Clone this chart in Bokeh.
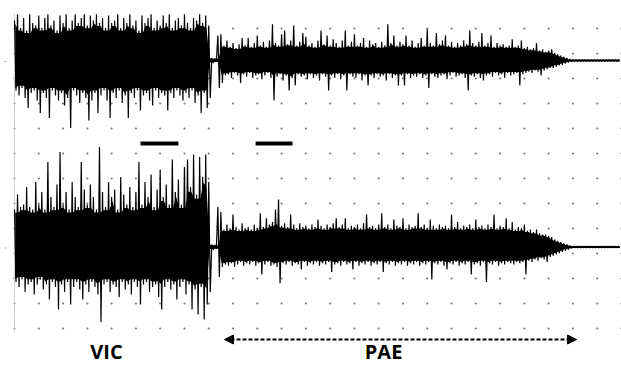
import numpy as np
from bokeh.plotting import figure
from bokeh.models import Range1d, Arrow, NormalHead
from bokeh.embed import file_html
from bokeh.resources import INLINE
from bokeh.core.properties import value

# ---------------- data ----------------
# sampling step of the envelope pairs, in grid divisions of time
dt = 0.125

# upper trace: positive / negative peaks per sample pair (grid divisions)
top_hi = [
    1.6, 1.85, 1.3, 1.7, 1.2, 1.85, 1.5, 1.4, 1.8, 1.3,
    1.7, 1.85, 1.4, 1.6, 1.2, 1.8, 1.5, 1.85, 1.3, 1.6,
    1.85, 1.5, 1.7, 1.85, 1.4, 1.8, 1.6, 1.85, 1.5, 1.7,
    1.3, 1.8, 1.5, 1.6, 1.85, 1.3, 1.7, 1.5, 1.85, 1.4,
    1.6, 1.2, 1.8, 1.5, 1.7, 1.85, 1.3, 1.6, 1.4, 1.8,
    1.5, 1.85, 1.3, 1.6, 1.7, 1.4, 1.85, 1.5, 1.3, 1.7,
    1.6, 1.85, 1.5, 1.8, 1.4,
    0.1, 0.08,
    1.0, 1.05, 0.6, 0.8, 0.55, 0.7, 0.5, 0.65, 0.9, 0.6,
    0.9, 0.55, 0.7, 1.0, 0.6, 0.75, 0.55, 0.8, 1.45, 0.7,
    0.6, 1.05, 1.2, 0.65, 0.8, 1.4, 0.6, 0.75, 1.1, 0.95,
    0.6, 0.7, 0.55, 0.8, 1.2, 0.65, 1.0, 0.6, 0.85, 0.7,
    0.55, 0.8, 1.2, 0.6, 0.75, 1.05, 0.6, 0.7, 0.9, 0.55,
    0.8, 0.65, 0.7, 0.55, 0.75, 0.6, 1.45, 0.7, 1.0, 0.6,
    0.75, 0.65, 1.0, 0.6, 0.8, 0.55, 0.7, 0.9, 0.6, 1.25,
    0.7, 0.6, 1.1, 0.65, 0.8, 1.0, 0.6, 0.75, 0.55, 0.7,
    0.6, 0.8, 0.65, 1.2, 0.7, 0.6, 0.75, 1.1, 0.6, 0.7,
    1.0, 0.55, 0.7, 0.6, 0.65, 0.55, 0.6, 0.85, 0.55, 0.6,
    0.8, 0.5, 0.55, 0.45, 0.5, 0.7, 0.4, 0.45, 0.35, 0.4,
    0.45, 0.3, 0.25, 0.2, 0.15, 0.1, 0.06,
    0.04, 0.04, 0.04, 0.04, 0.04, 0.04, 0.04, 0.04,
    0.04, 0.04, 0.04, 0.04, 0.04, 0.04, 0.04, 0.04,
]
top_lo = [
    -1.2, -1.4, -1.1, -1.5, -1.9, -1.3, -1.2, -1.6, -2.1, -1.3,
    -1.5, -2.3, -1.2, -1.4, -1.6, -1.3, -1.8, -1.5, -2.7, -1.2,
    -1.4, -1.7, -1.3, -1.5, -2.4, -1.6, -1.3, -2.1, -1.4, -1.2,
    -1.6, -2.3, -1.3, -1.5, -1.2, -1.7, -1.4, -2.3, -1.3, -1.5,
    -1.2, -2.0, -1.4, -1.3, -1.6, -1.8, -1.2, -1.5, -1.3, -1.4,
    -2.0, -1.3, -1.5, -1.2, -1.4, -1.6, -1.3, -1.5, -1.2, -1.7,
    -1.4, -2.1, -1.3, -1.9, -1.5,
    -0.1, -0.06,
    -1.1, -0.9, -0.6, -0.55, -0.7, -0.5, -0.6, -0.9, -0.55, -0.65,
    -0.5, -0.7, -0.6, -0.55, -0.75, -0.6, -0.5, -0.7, -1.6, -0.65,
    -0.55, -0.8, -0.6, -1.2, -0.7, -1.0, -0.55, -0.65, -0.6, -0.75,
    -0.55, -0.7, -0.6, -0.8, -0.55, -0.65, -1.2, -0.6, -0.7, -0.55,
    -0.75, -0.6, -1.2, -0.55, -0.65, -0.7, -0.55, -0.8, -0.6, -1.0,
    -0.6, -0.7, -0.55, -0.65, -0.6, -0.8, -0.55, -0.7, -0.6, -1.0,
    -0.6, -1.0, -0.55, -0.7, -0.6, -0.65, -0.55, -0.7, -0.6, -1.1,
    -0.55, -0.65, -0.7, -0.6, -0.55, -0.75, -0.6, -0.5, -0.65, -0.6,
    -0.55, -0.7, -1.2, -0.6, -0.65, -0.55, -0.7, -0.8, -0.6, -0.55,
    -0.65, -0.5, -0.6, -0.55, -0.7, -0.5, -0.6, -0.55, -0.5, -1.0,
    -0.55, -0.5, -0.45, -0.5, -0.4, -0.45, -0.6, -0.4, -0.35, -0.3,
    -0.3, -0.25, -0.2, -0.18, -0.12, -0.08, -0.05,
    -0.04, -0.04, -0.04, -0.04, -0.04, -0.04, -0.04, -0.04,
    -0.04, -0.04, -0.04, -0.04, -0.04, -0.04, -0.04, -0.04,
]

# lower trace
bot_hi = [
    1.5, 2.1, 1.6, 1.7, 2.4, 1.6, 1.5, 2.6, 1.7, 2.2,
    1.5, 3.4, 2.0, 1.6, 2.5, 3.8, 1.7, 2.2, 1.5, 2.6,
    2.0, 1.6, 3.4, 2.3, 1.7, 2.5, 2.0, 1.5, 4.0, 2.2,
    1.6, 2.6, 2.0, 2.3, 1.5, 2.8, 2.1, 1.7, 2.4, 1.6,
    2.2, 3.4, 1.7, 2.6, 2.0, 2.9, 1.6, 2.3, 3.1, 2.0,
    2.5, 1.7, 3.5, 2.2, 2.7, 1.7, 3.2, 3.5, 2.4, 3.7,
    2.1, 3.6, 2.8, 3.7, 2.6,
    0.1, 0.08,
    1.6, 1.4, 0.7, 0.9, 0.75, 1.3, 0.8, 0.7, 0.95, 0.75,
    0.8, 0.7, 0.9, 0.75, 1.35, 0.8, 1.15, 0.9, 1.0, 1.5,
    1.9, 0.85, 0.95, 0.8, 1.3, 0.9, 0.75, 0.95, 0.8, 0.85,
    0.75, 0.9, 0.8, 1.1, 0.85, 0.75, 0.9, 0.8, 0.95, 1.15,
    0.8, 0.9, 1.15, 0.75, 0.85, 0.8, 0.9, 0.75, 0.95, 1.3,
    0.8, 0.85, 0.75, 0.9, 1.35, 0.8, 0.9, 0.75, 1.1, 0.85,
    0.8, 1.15, 0.75, 0.9, 0.8, 0.85, 1.35, 0.8, 0.9, 0.75,
    1.1, 0.85, 0.75, 0.9, 0.8, 0.85, 0.75, 1.3, 0.8, 1.0,
    0.75, 0.85, 0.8, 0.9, 0.75, 1.1, 0.8, 0.85, 0.75, 0.9,
    0.8, 1.3, 0.75, 0.85, 0.8, 1.15, 0.75, 1.0, 0.7, 0.8,
    0.75, 0.9, 0.65, 0.7, 0.6, 0.7, 0.55, 0.5, 0.5, 0.45,
    0.4, 0.3, 0.25, 0.2, 0.15, 0.1, 0.06,
    0.04, 0.04, 0.04, 0.04, 0.04, 0.04, 0.04, 0.04,
    0.04, 0.04, 0.04, 0.04, 0.04, 0.04, 0.04, 0.04,
]
bot_lo = [
    -1.4, -1.6, -1.3, -1.8, -1.5, -1.4, -1.9, -1.5, -1.3, -1.7,
    -1.5, -2.1, -1.4, -1.6, -2.5, -1.5, -1.8, -1.4, -2.3, -1.6,
    -1.4, -1.7, -2.1, -1.5, -1.8, -1.4, -1.6, -1.9, -3.0, -1.5,
    -1.4, -1.8, -1.5, -1.6, -2.0, -1.4, -1.7, -1.5, -1.9, -1.4,
    -1.6, -2.3, -1.5, -1.4, -1.8, -1.6, -1.5, -2.0, -2.5, -1.6,
    -1.4, -1.7, -1.5, -2.1, -1.6, -1.4, -1.9, -1.5, -2.5, -1.7,
    -2.7, -1.6, -2.9, -2.3, -1.8,
    -0.1, -0.08,
    -1.2, -0.8, -0.7, -0.75, -0.65, -0.8, -0.7, -0.6, -0.75, -0.65,
    -0.7, -0.6, -0.75, -0.65, -1.1, -0.7, -0.6, -0.75, -0.7, -0.8,
    -1.45, -0.65, -0.7, -0.6, -0.75, -0.65, -0.7, -0.9, -0.6, -0.75,
    -0.65, -0.7, -0.6, -0.75, -0.65, -0.7, -0.6, -1.0, -0.7, -0.65,
    -0.75, -0.6, -0.7, -0.65, -0.9, -0.6, -0.75, -0.65, -0.7, -0.6,
    -0.75, -0.65, -0.7, -0.6, -1.0, -0.65, -0.7, -0.6, -0.75, -0.65,
    -0.7, -0.6, -0.75, -0.65, -0.7, -0.6, -0.75, -0.65, -0.7, -0.6,
    -1.3, -0.65, -0.7, -0.6, -0.75, -0.9, -0.65, -0.7, -0.6, -0.75,
    -0.65, -0.7, -0.6, -1.1, -0.7, -0.65, -0.75, -0.6, -1.4, -0.65,
    -0.7, -0.6, -0.75, -0.65, -0.7, -0.6, -0.65, -0.7, -0.6, -0.65,
    -0.6, -1.1, -0.55, -0.6, -0.5, -0.55, -0.45, -0.5, -0.6, -0.4,
    -0.35, -0.3, -0.25, -0.2, -0.15, -0.1, -0.06,
    -0.04, -0.04, -0.04, -0.04, -0.04, -0.04, -0.04, -0.04,
    -0.04, -0.04, -0.04, -0.04, -0.04, -0.04, -0.04, -0.04,
]

# analysis windows (black bars) and PAE span, in time divisions
window_start = [5.19, 9.93]
window_end = [6.75, 11.45]
pae_span = [8.65, 23.15]
phase_labels = ["VIC", "PAE"]
phase_label_x = [3.79, 15.2]

# ---------------- layout constants ----------------
TOP_BASE = 10.72
BOT_BASE = 3.26
W, H = 621, 365
PX_X = 24.28   # px per time division
PX_Y = 25.0    # px per amplitude division

p = figure(width=W, height=H, output_backend="svg", toolbar_location=None,
           x_axis_location=None, y_axis_location=None, min_border=0,
           x_range=Range1d(-14 / PX_X, (W - 14) / PX_X),
           y_range=Range1d(-37 / PX_Y, 328 / PX_Y))
p.outline_line_color = None
p.grid.visible = False
p.background_fill_color = "white"
p.border_fill_color = "white"

# dotted grid
gx, gy = np.meshgrid(np.arange(0, 26), np.arange(0, 13))
p.scatter(gx.ravel(), gy.ravel(), size=2.2, marker="circle",
          fill_color="#7a7a7a", line_color=None)

# left axis line and tiny tick marks
p.segment(x0=[0], y0=[-0.16], x1=[0], y1=[12.6], line_color="#d0d0d0", line_width=1)
p.segment(x0=[-0.4, -0.4], y0=[TOP_BASE - 0.04, BOT_BASE - 0.04],
          x1=[-0.34, -0.34], y1=[TOP_BASE - 0.04, BOT_BASE - 0.04],
          line_color="#999999", line_width=1)


def zigzag(hi, lo, base):
    hi = np.asarray(hi, dtype=float)
    lo = np.asarray(lo, dtype=float)
    t = np.arange(len(hi)) * dt
    xs = np.empty(2 * len(hi))
    ys = np.empty(2 * len(hi))
    xs[0::2] = t
    xs[1::2] = t + dt / 2
    ys[0::2] = hi + base
    ys[1::2] = lo + base
    return xs, ys


def core(hi, lo, base):
    # solid inner band: where neighbouring oscillations overlap
    hi = np.asarray(hi, dtype=float)
    lo = np.asarray(lo, dtype=float)
    hp = np.pad(hi, 1, mode="edge")
    lp = np.pad(lo, 1, mode="edge")
    chi = np.minimum(np.minimum(hp[:-2], hp[1:-1]), hp[2:])
    clo = np.maximum(np.maximum(lp[:-2], lp[1:-1]), lp[2:])
    t = np.arange(len(hi)) * dt + dt / 4
    return t, chi * 0.92 + base, clo * 0.92 + base


for hi, lo, base in [(top_hi, top_lo, TOP_BASE), (bot_hi, bot_lo, BOT_BASE)]:
    t, c1, c2 = core(hi, lo, base)
    p.varea(x=t, y1=c2, y2=c1, fill_color="black")
    xs, ys = zigzag(hi, lo, base)
    p.line(xs, ys, line_color="black", line_width=1.2, line_join="bevel")

# black bars
p.segment(x0=window_start, y0=[7.4] * 2, x1=window_end, y1=[7.4] * 2,
          line_color="black", line_width=4, line_cap="butt")

# dashed double arrow
arrow = Arrow(start=NormalHead(size=9, fill_color="black", line_color="black"),
              end=NormalHead(size=9, fill_color="black", line_color="black"),
              x_start=pae_span[0], y_start=-0.44, x_end=pae_span[1], y_end=-0.44,
              line_color="black", line_width=2, line_dash="4 2")
p.add_layout(arrow)

p.text(x=phase_label_x, y=[-0.36] * 2, text=phase_labels,
       text_font=value("Open Sans"), text_font_style="bold",
       text_font_size="20px", text_align="center", text_baseline="top",
       text_color="black")

open("out.html", "w").write(file_html(p, INLINE))
